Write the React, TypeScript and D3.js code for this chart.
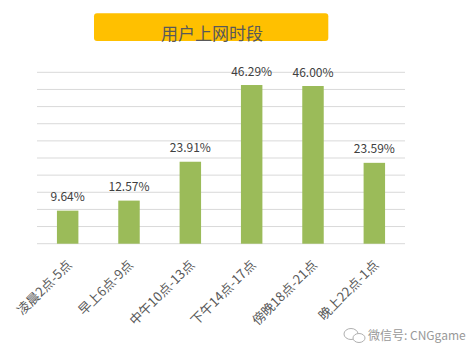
import React from "react";
import * as d3 from "d3";

const categories = ["凌晨2点-5点", "早上6点-9点", "中午10点-13点", "下午14点-17点", "傍晚18点-21点", "晚上22点-1点"];
const values = [9.64, 12.57, 23.91, 46.29, 46.0, 23.59];
const valueLabels = ["9.64%", "12.57%", "23.91%", "46.29%", "46.00%", "23.59%"];
const gridTicks = [0, 5, 10, 15, 20, 25, 30, 35, 40, 45, 50];
const title = "用户上网时段";
const watermark = "微信号: CNGgame";

const W = 472;
const H = 357;
const left = 37;
const right = 405;
const top = 72.3;
const bottom = 243.7;

export default function App() {
  const x = d3.scaleBand<string>().domain(categories).range([left, right]).paddingInner(0.65).paddingOuter(0.325);
  const y = d3.scaleLinear().domain([0, 50]).range([bottom, top]);
  const font = "'Noto Sans CJK SC', 'Noto Sans', sans-serif";
  return (
    <div style={{ position: "absolute", left: 0, top: 0 }}>
      <svg width={W} height={H} style={{ display: "block", background: "#fff" }}>
        <rect x={94} y={13.3} width={234.3} height={27.7} rx={3} ry={3} fill="#FFC000" />
        <text x={212} y={40} textAnchor="middle" fontFamily={font} fontSize={17} fill="#595959">
          {title}
        </text>
        {gridTicks.map((t) => (
          <line key={t} x1={left} x2={right} y1={y(t)} y2={y(t)} stroke="#D9D9D9" strokeWidth={1} />
        ))}
        {categories.map((c, i) => (
          <g key={c}>
            <rect x={x(c)} y={y(values[i])} width={x.bandwidth()} height={bottom - y(values[i])} fill="#9BBB59" />
            <text
              x={(x(c) as number) + x.bandwidth() / 2}
              y={y(values[i]) - 9.5}
              textAnchor="middle"
              fontFamily={font}
              fontSize={12}
              fill="#404040"
            >
              {valueLabels[i]}
            </text>
            <text
              transform={`translate(${(x(c) as number) + x.bandwidth() / 2 + 5},${bottom + 22}) rotate(-45)`}
              textAnchor="end"
              fontFamily={font}
              fontSize={13}
              fill="#595959"
            >
              {c}
            </text>
          </g>
        ))}
        <g fill="none" stroke="#B0B0B0" strokeWidth={1}>
          <ellipse cx={351} cy={334} rx={7} ry={5.5} />
          <ellipse cx={359} cy={338} rx={6} ry={4.5} fill="#fff" />
        </g>
        <text x={368} y={340} fontFamily={font} fontSize={12} fill="#999999">
          {watermark}
        </text>
      </svg>
    </div>
  );
}
